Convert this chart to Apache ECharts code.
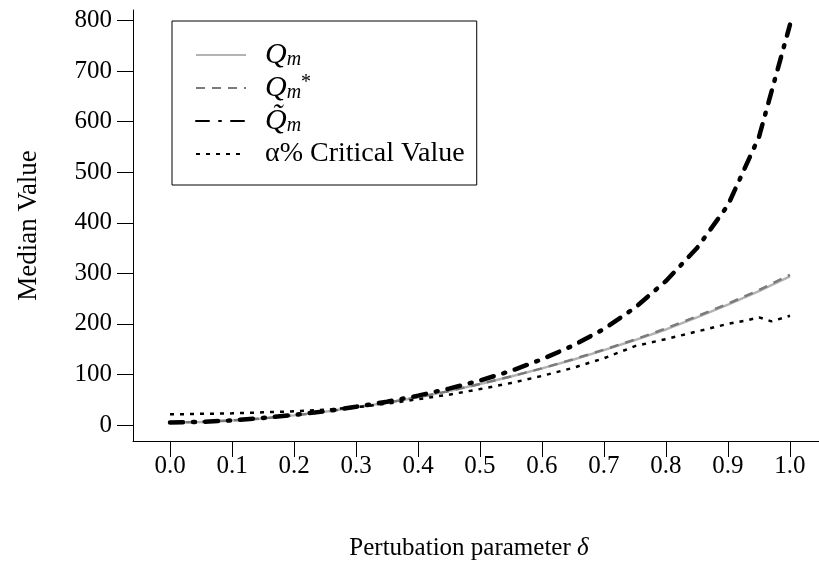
<!DOCTYPE html>
<html>
<head>
<meta charset="utf-8">
<script src="https://cdn.jsdelivr.net/npm/echarts@6/dist/echarts.min.js"></script>
<style>
  html, body { margin: 0; padding: 0; background: #fff; }
  #chart { width: 819px; height: 563px; }
</style>
</head>
<body>
<div id="chart"></div>
<script>
  // perturbation parameter grid
  var deltas = [0, 0.05, 0.1, 0.15, 0.2, 0.25, 0.3, 0.35, 0.4, 0.45, 0.5,
                0.55, 0.6, 0.65, 0.7, 0.75, 0.8, 0.85, 0.9, 0.95, 1.0];
  var qm      = [5, 6, 9, 13, 19, 26, 35, 44, 55, 67, 81, 96, 112, 129, 148, 168, 189, 213, 238, 265, 294];
  var qmStar  = [5, 6, 9, 13, 19, 26, 35, 44, 55, 67, 81, 96, 112, 130, 149, 169, 191, 215, 240, 267, 297];
  var qmTilde = [5, 6, 9, 14, 20, 27, 36, 46, 58, 72, 88, 107, 130, 157, 190, 232, 285, 350, 435, 570, 792];
  // critical value has a few extra points near the end
  var critDeltas = [0, 0.05, 0.1, 0.15, 0.2, 0.25, 0.3, 0.35, 0.4, 0.45, 0.5,
                    0.55, 0.6, 0.65, 0.7, 0.75, 0.8, 0.85, 0.9, 0.93, 0.95, 0.97, 1.0];
  var critVal = [21, 22, 23, 25, 27, 30, 35, 42, 51, 60, 71, 83, 97, 113, 132, 156, 170, 185, 200, 207, 213, 205, 216];
  var yTicks = [0, 100, 200, 300, 400, 500, 600, 700, 800];
  var xTicks = [0, 0.1, 0.2, 0.3, 0.4, 0.5, 0.6, 0.7, 0.8, 0.9, 1.0];

  function pairs(xs, ys) {
    return xs.map(function (x, i) { return [x, ys[i]]; });
  }

  var serif = 'Liberation Serif';
  var myChart = echarts.init(document.getElementById('chart'));

  var legendLabels = {
    'Qm': '{i|Q}{s|m}',
    'Qstar': '{i|Q}{s|m}{p|*}',
    'Qtilde': '{i|Q\u0303}{s|m}',
    'crit': '{t|\u03b1% Critical Value}'
  };

  var option = {
    animation: false,
    backgroundColor: '#fff',
    grid: { left: 133, right: 0, top: 10, bottom: 122, outerBoundsMode: 'none', containLabel: false },
    legend: {
      orient: 'vertical',
      left: 172,
      top: 21,
      padding: [19, 12, 16, 23],
      borderColor: '#000',
      borderWidth: 1,
      itemWidth: 50,
      itemHeight: 14,
      itemGap: 3,
      data: ['Qm', 'Qstar', 'Qtilde', 'crit'],
      itemStyle: { opacity: 0, borderWidth: 0 },
      formatter: function (name) { return legendLabels[name]; },
      textStyle: {
        fontFamily: serif,
        color: '#000',
        lineHeight: 30,
        padding: [0, 0, 0, 14],
        rich: {
          i: { fontFamily: serif, fontStyle: 'italic', fontSize: 30, color: '#000', lineHeight: 30 },
          s: { fontFamily: serif, fontStyle: 'italic', fontSize: 20, color: '#000', verticalAlign: 'bottom', lineHeight: 30 },
          p: { fontFamily: serif, fontSize: 20, color: '#000', verticalAlign: 'top', lineHeight: 30 },
          t: { fontFamily: serif, fontSize: 28, color: '#000', lineHeight: 30 }
        }
      }
    },
    xAxis: {
      type: 'value',
      min: -0.0597,
      max: 1.0468,
      name: 'Pertubation parameter {d|\u03b4}',
      nameLocation: 'middle',
      nameGap: 95,
      nameMoveOverlap: false,
      nameTextStyle: {
        fontFamily: serif, fontSize: 25, color: '#000', padding: [0, 14, 0, 0],
        rich: { d: { fontFamily: serif, fontStyle: 'italic', fontSize: 25, color: '#000' } }
      },
      splitLine: { show: false },
      axisLine: { onZero: false, lineStyle: { color: '#000', width: 1 } },
      axisTick: { length: 16, customValues: xTicks, lineStyle: { color: '#000', width: 1 } },
      axisLabel: {
        customValues: xTicks,
        margin: 13,
        fontFamily: serif, fontSize: 25, color: '#000',
        formatter: function (v) { return v.toFixed(1); }
      }
    },
    yAxis: {
      type: 'value',
      min: -31.7,
      max: 821,
      name: 'Median Value',
      nameLocation: 'middle',
      nameGap: 91,
      nameTextStyle: { fontFamily: serif, fontSize: 27, color: '#000' },
      splitLine: { show: false },
      axisLine: { show: true, onZero: false, lineStyle: { color: '#000', width: 1 } },
      axisTick: { show: true, length: 16, customValues: yTicks, lineStyle: { color: '#000', width: 1 } },
      axisLabel: {
        customValues: yTicks,
        margin: 21,
        fontFamily: serif, fontSize: 25, color: '#000'
      }
    },
    series: [
      {
        name: 'Qm', type: 'line', symbol: 'none',
        data: pairs(deltas, qm),
        lineStyle: { color: '#b3b3b3', width: 2.5, type: 'solid' },
        itemStyle: { color: '#b3b3b3' }
      },
      {
        name: 'Qstar', type: 'line', symbol: 'none',
        data: pairs(deltas, qmStar),
        lineStyle: { color: '#7a7a7a', width: 2.5, type: [9, 7] },
        itemStyle: { color: '#7a7a7a' }
      },
      {
        name: 'Qtilde', type: 'line', symbol: 'none',
        data: pairs(deltas, qmTilde),
        lineStyle: { color: '#000', width: 4.5, type: [13, 10, 2, 10], cap: 'round' },
        itemStyle: { color: '#000' }
      },
      {
        name: 'crit', type: 'line', symbol: 'none',
        data: pairs(critDeltas, critVal),
        lineStyle: { color: '#000', width: 2.5, type: [4, 6] },
        itemStyle: { color: '#000' }
      }
    ]
  };

  myChart.setOption(option);
</script>
</body>
</html>
